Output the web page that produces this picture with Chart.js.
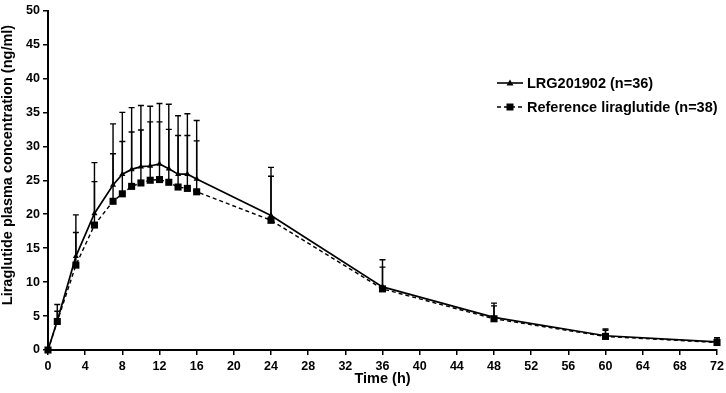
<!DOCTYPE html>
<html>
<head>
<meta charset="utf-8">
<script src="https://cdn.jsdelivr.net/npm/chart.js@4"></script>
<style>
  html, body { margin: 0; padding: 0; background: #fff; }
  #wrap { width: 726px; height: 393px; }
</style>
</head>
<body>
<div id="wrap"><canvas id="pkChart"></canvas></div>
<script>
// Time points (h)
const timePoints = [0, 1, 3, 5, 7, 8, 9, 10, 11, 12, 13, 14, 15, 16, 24, 36, 48, 60, 72];

// LRG201902 (n=36): mean and SD (ng/ml)
const lrgMean = [0, 4.3, 13.8, 20.1, 24.3, 25.9, 26.6, 27.0, 27.1, 27.4, 26.7, 25.9, 25.9, 25.2, 19.8, 9.3, 4.8, 2.1, 1.2];
const lrgSD   = [0, 2.4, 6.1, 7.5, 9.0, 9.1, 9.1, 9.0, 8.8, 8.9, 9.5, 8.6, 8.9, 8.6, 7.1, 4.0, 2.1, 1.0, 0.6];

// Reference liraglutide (n=38): mean and SD (ng/ml)
const refMean = [0, 4.2, 12.5, 18.4, 21.9, 23.0, 24.1, 24.6, 25.0, 25.1, 24.7, 24.0, 23.8, 23.3, 19.1, 9.0, 4.6, 2.0, 1.1];
const refSD   = [0, 1.5, 4.8, 6.4, 7.0, 7.7, 8.0, 7.8, 8.6, 8.5, 7.8, 7.6, 7.8, 7.5, 6.5, 3.2, 1.9, 0.9, 0.5];

const seriesNames = ["LRG201902 (n=36)", "Reference liraglutide (n=38)"];
const yTitle = "Liraglutide plasma concentration (ng/ml)";
const FONT = "'Liberation Sans', Arial, sans-serif";

function toPoints(xs, ys) {
  return xs.map((x, i) => ({ x: x, y: ys[i] }));
}

// Upward SD error bars, drawn through the chart scales
const errorBars = {
  id: 'errorBars',
  beforeDatasetsDraw(chart) {
    const ctx = chart.ctx;
    const xs = chart.scales.x, ys = chart.scales.y;
    const sets = [[refMean, refSD], [lrgMean, lrgSD]];
    ctx.save();
    ctx.strokeStyle = '#000';
    ctx.lineWidth = 1.4;
    sets.forEach(([mean, sd]) => {
      timePoints.forEach((t, i) => {
        if (sd[i] <= 0) return;
        const px = xs.getPixelForValue(t);
        const p0 = ys.getPixelForValue(mean[i]);
        const p1 = ys.getPixelForValue(mean[i] + sd[i]);
        ctx.beginPath();
        ctx.moveTo(px, p0);
        ctx.lineTo(px, p1);
        ctx.moveTo(px - 3, p1);
        ctx.lineTo(px + 3, p1);
        ctx.stroke();
      });
    });
    ctx.restore();
  }
};

// Legend inside the plot area + rotated y title
const innerLegend = {
  id: 'innerLegend',
  afterDraw(chart) {
    const ctx = chart.ctx;
    const x0 = 497, x1 = 523, rows = [83, 107];
    ctx.save();
    ctx.fillStyle = '#000';
    ctx.strokeStyle = '#000';
    ctx.font = 'bold 14.5px ' + FONT;
    ctx.textBaseline = 'middle';
    rows.forEach((y, k) => {
      ctx.lineWidth = k === 0 ? 1.6 : 1.4;
      ctx.setLineDash(k === 0 ? [] : [4, 3]);
      ctx.beginPath();
      ctx.moveTo(x0, y);
      ctx.lineTo(x1, y);
      ctx.stroke();
      ctx.setLineDash([]);
      const mx = (x0 + x1) / 2;
      ctx.beginPath();
      if (k === 0) {
        ctx.moveTo(mx, y - 3.5);
        ctx.lineTo(mx + 3.5, y + 2.5);
        ctx.lineTo(mx - 3.5, y + 2.5);
        ctx.closePath();
      } else {
        ctx.rect(mx - 3.5, y - 3.5, 7, 7);
      }
      ctx.fill();
      ctx.fillText(seriesNames[k], 527, y + 0.5);
    });

    ctx.translate(8, 165);
    ctx.rotate(-Math.PI / 2);
    ctx.textAlign = 'center';
    ctx.fillText(yTitle, 0, 0);
    ctx.restore();
  }
};

const axisGrid = {
  display: true,
  drawOnChartArea: false,
  drawTicks: true,
  tickLength: 5,
  color: '#000',
  lineWidth: 1.5
};

new Chart(document.getElementById('pkChart'), {
  type: 'line',
  data: {
    datasets: [
      {
        label: seriesNames[1],
        data: toPoints(timePoints, refMean),
        borderColor: '#000',
        backgroundColor: '#000',
        borderWidth: 1.4,
        borderDash: [4, 3],
        pointStyle: 'rect',
        pointRadius: 5,
        pointBorderWidth: 0,
        tension: 0,
        clip: false
      },
      {
        label: seriesNames[0],
        data: toPoints(timePoints, lrgMean),
        borderColor: '#000',
        backgroundColor: '#000',
        borderWidth: 1.7,
        pointStyle: 'triangle',
        pointRadius: 3.5,
        pointBorderWidth: 0,
        tension: 0,
        clip: false
      }
    ]
  },
  options: {
    responsive: true,
    maintainAspectRatio: false,
    animation: false,
    layout: { padding: { top: 7, right: 9, left: 0, bottom: 0 } },
    plugins: {
      legend: { display: false },
      tooltip: { enabled: false }
    },
    scales: {
      x: {
        type: 'linear',
        min: 0,
        max: 72,
        ticks: { stepSize: 4, color: '#000', font: { family: FONT, size: 12.5, weight: 'bold' }, padding: 4, maxRotation: 0 },
        grid: axisGrid,
        border: { color: '#000', width: 2 },
        title: { display: true, text: 'Time (h)', color: '#000', font: { family: FONT, size: 14.5, weight: 'bold' }, padding: { top: 0, bottom: 5 } },
        afterFit(axis) { axis.height = 43; axis.paddingRight = 0; axis.paddingLeft = 0; }
      },
      y: {
        min: 0,
        max: 50,
        ticks: { stepSize: 5, color: '#000', font: { family: FONT, size: 12.5, weight: 'bold' }, padding: 3 },
        grid: axisGrid,
        border: { color: '#000', width: 2 },
        afterFit(axis) { axis.width = 48; }
      }
    }
  },
  plugins: [errorBars, innerLegend]
});
</script>
</body>
</html>
